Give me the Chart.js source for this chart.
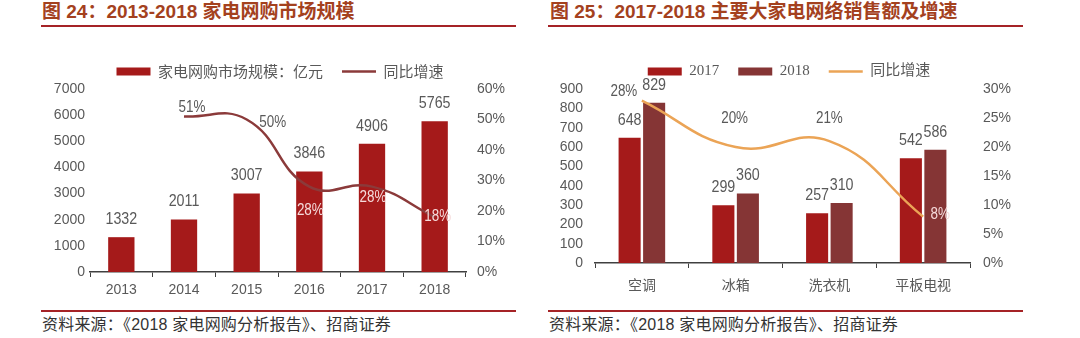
<!DOCTYPE html>
<html>
<head>
<meta charset="utf-8">
<script src="https://cdn.jsdelivr.net/npm/chart.js@4.4.1/dist/chart.umd.min.js"></script>
<style>
  html, body { margin: 0; padding: 0; background: #fff; }
  body { width: 1080px; height: 338px; position: relative; overflow: hidden; font-family: "Liberation Sans", "Noto Sans CJK SC", sans-serif; }
  .title { position: absolute; top: 2px; line-height: 20px; font-size: 19px; font-weight: bold; color: #a4411e; white-space: nowrap; }
  .rule { position: absolute; height: 2px; background: #a52326; }
  .box { position: absolute; top: 25px; width: 540px; height: 280px; }
  .source { position: absolute; top: 316px; line-height: 18px; font-size: 16px; letter-spacing: 0.2px; color: #333; white-space: nowrap; }
</style>
</head>
<body>
<div class="title" style="left:42px">图 24：2013-2018 家电网购市场规模</div>
<div class="rule" style="left:41px; width:475px; top:25px"></div>
<div class="title" style="left:550px">图 25：2017-2018 主要大家电网络销售额及增速</div>
<div class="rule" style="left:548px; width:475px; top:25px"></div>

<div class="box" style="left:0"><canvas id="left"></canvas></div>
<div class="box" style="left:540px"><canvas id="right"></canvas></div>

<div class="rule" style="left:41px; width:475px; top:310px"></div>
<div class="source" style="left:42px">资料来源：《2018 家电网购分析报告》、招商证券</div>
<div class="rule" style="left:548px; width:475px; top:310px"></div>
<div class="source" style="left:549px">资料来源：《2018 家电网购分析报告》、招商证券</div>

<script>
// chart 24
const years = ['2013', '2014', '2015', '2016', '2017', '2018'];
const marketSize = [1332, 2011, 3007, 3846, 4906, 5765];
const marketGrowth = [null, 51, 50, 28, 28, 18];

// chart 25
const products = ['空调', '冰箱', '洗衣机', '平板电视'];
const sales2017 = [648, 299, 257, 542];
const sales2018 = [829, 360, 310, 586];
const salesGrowth = [28, 20, 21, 8];

const numFont = '"Liberation Sans", "Noto Sans CJK SC", sans-serif';
const gray = '#595959';

Chart.defaults.font.family = numFont;
Chart.defaults.color = gray;

// narrow-looking text: squeeze horizontally around the anchor point
function narrowText(ctx, text, x, y) {
  ctx.save();
  ctx.translate(x, y);
  ctx.scale(0.84, 1);
  ctx.fillText(text, 0, 0);
  ctx.restore();
}

// value labels on bars and the growth line
const valueLabels = {
  id: 'valueLabels',
  afterDatasetsDraw(chart, args, opts) {
    const ctx = chart.ctx;
    ctx.save();
    ctx.textAlign = 'center';
    chart.data.datasets.forEach(function(ds, di) {
      const meta = chart.getDatasetMeta(di);
      meta.data.forEach(function(el, i) {
        const v = ds.data[i];
        if (v === null || v === undefined) return;
        if (ds.type === 'line') {
          const off = opts.lineOffsets[i];
          ctx.font = '16px ' + numFont;
          ctx.fillStyle = opts.lineColors[i];
          ctx.textBaseline = 'middle';
          narrowText(ctx, v + '%', el.x + off[0], el.y + off[1]);
        } else {
          ctx.font = '17px ' + numFont;
          ctx.fillStyle = gray;
          ctx.textBaseline = 'alphabetic';
          narrowText(ctx, String(v), el.x, el.y - 13);
        }
      });
    });
    ctx.restore();
  }
};

function legendItems(chart) {
  const items = Chart.defaults.plugins.legend.labels.generateLabels(chart);
  items.forEach(function(it) {
    const ds = chart.data.datasets[it.datasetIndex];
    if (ds.type === 'line') {
      it.pointStyle = 'line';
      it.strokeStyle = ds.borderColor;
      it.lineWidth = 2.5;
    } else {
      it.pointStyle = 'rect';
      it.lineWidth = 0;
    }
  });
  return items;
}

function makeLegend(family) {
  return {
    position: 'top',
    labels: {
      usePointStyle: true,
      pointStyleWidth: 34,
      boxHeight: 8,
      padding: 19,
      color: gray,
      font: { size: 15, family: family },
      generateLabels: legendItems,
      sort: function(a, b) { return a.datasetIndex - b.datasetIndex; }
    }
  };
}

function xAxis(height, pad) {
  return {
    grid: { display: true, drawOnChartArea: false, drawTicks: true, tickLength: 5, color: '#404040', offset: true },
    border: { display: true, color: '#404040', width: 1.5 },
    ticks: { color: gray, font: { size: 14 }, padding: pad, autoSkip: false, maxRotation: 0 },
    afterFit: function(s) { s.height = height; }
  };
}

function yAxis(pos, max, step, width, pad, pct) {
  return {
    position: pos,
    min: 0,
    max: max,
    grid: { display: false, drawTicks: false },
    border: { display: false },
    ticks: {
      stepSize: step,
      autoSkip: false,
      color: gray,
      font: { size: 14 },
      padding: pad,
      callback: function(v) { return pct ? v + '%' : v; }
    },
    afterFit: function(s) { s.width = width; s.paddingTop = 64; }
  };
}

new Chart(document.getElementById('left'), {
  type: 'bar',
  data: {
    labels: years,
    datasets: [
      {
        type: 'bar',
        label: '家电网购市场规模：亿元',
        data: marketSize,
        backgroundColor: '#a51a1a',
        categoryPercentage: 1,
        barPercentage: 0.42,
        yAxisID: 'y',
        order: 1
      },
      {
        type: 'line',
        label: '同比增速',
        data: marketGrowth,
        borderColor: '#8b3a3a',
        borderWidth: 2.5,
        pointRadius: 0,
        tension: 0.45,
        yAxisID: 'y1',
        order: 0
      }
    ]
  },
  options: {
    responsive: true,
    maintainAspectRatio: false,
    animation: false,
    layout: { padding: { left: 20, right: 0, top: 0, bottom: 0 } },
    plugins: {
      legend: makeLegend('"Noto Sans CJK SC", sans-serif'),
      tooltip: { enabled: false },
      valueLabels: {
        lineOffsets: [null, [8, -9], [26, 3], [1, 24], [1, 11], [3, -1]],
        lineColors: [null, gray, gray, '#f5dada', '#f5dada', '#f5dada']
      }
    },
    scales: {
      x: xAxis(33, 5),
      y: yAxis('left', 7000, 1000, 70, 5, false),
      y1: yAxis('right', 60, 10, 74, 11, true)
    }
  },
  plugins: [valueLabels]
});

new Chart(document.getElementById('right'), {
  type: 'bar',
  data: {
    labels: products,
    datasets: [
      {
        type: 'bar',
        label: '2017',
        data: sales2017,
        backgroundColor: '#a51a1a',
        categoryPercentage: 0.523,
        barPercentage: 0.9,
        yAxisID: 'y',
        order: 1
      },
      {
        type: 'bar',
        label: '2018',
        data: sales2018,
        backgroundColor: '#853535',
        categoryPercentage: 0.523,
        barPercentage: 0.9,
        yAxisID: 'y',
        order: 1
      },
      {
        type: 'line',
        label: '同比增速',
        data: salesGrowth,
        borderColor: '#eba456',
        borderWidth: 2.5,
        pointRadius: 0,
        tension: 0.45,
        yAxisID: 'y1',
        order: 0
      }
    ]
  },
  options: {
    responsive: true,
    maintainAspectRatio: false,
    animation: false,
    layout: { padding: { left: 0, right: 42, top: 0, bottom: 0 } },
    plugins: {
      legend: makeLegend('"Liberation Serif", "Noto Sans CJK SC", serif'),
      tooltip: { enabled: false },
      valueLabels: {
        lineOffsets: [[-18, -9], [-1, -28], [0, -23], [17, -2]],
        lineColors: [gray, gray, gray, '#f5dada']
      }
    },
    scales: {
      x: xAxis(42, 10),
      y: yAxis('left', 900, 100, 55, 12, false),
      y1: yAxis('right', 30, 5, 68, 13, true)
    }
  },
  plugins: [valueLabels]
});
</script>
</body>
</html>
